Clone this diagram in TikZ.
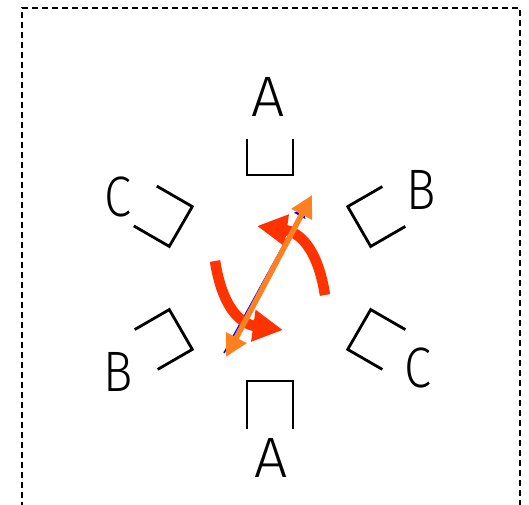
\documentclass[tikz,border=0pt]{standalone}
\usepackage{fontspec}
\setmainfont{Fira Sans}[UprightFont={* Light}]
\usetikzlibrary{arrows.meta}
\definecolor{arrowred}{RGB}{255,51,0}
\definecolor{arroworange}{RGB}{255,128,32}

\begin{document}
\begin{tikzpicture}[x=1pt,y=1pt,
    cup/.style={line width=2.8pt,line join=miter},
    lbl/.style={font=\fontsize{57}{57}\selectfont,xscale=0.86,transform shape,inner sep=0pt},
    turn/.style={line width=10.5pt,draw=arrowred,-{Triangle[length=30pt,width=30pt]}},
    swap/.style={line width=5.5pt,draw=arroworange,{Triangle[length=22pt,width=22pt]}-{Triangle[length=22pt,width=22pt]}}]
            %%% FRAME %%%
            \useasboundingbox (-270,-226) rectangle (259,278);
            \draw[dash pattern=on 6pt off 4pt,line width=1.2pt] (-248,-240) rectangle (250,270);

            %%% CUPS %%%
            \foreach \ang/\len in {0/36,60/41,120/40,180/48,240/40,300/40}
                \draw[cup,rotate=\ang] (-23,103+\len) -- (-23,103) -- (23,103) -- (23,103+\len);

            %%% LABELS %%%
            \node[lbl,xscale=1.2] (a1) at (-2,181) {A};
            \node[lbl,xscale=1.2] (a2) at (1,-180) {A};
            \node[lbl] (c1) at (-152,81) {C};
            \node[lbl] (b1) at (151,88) {B};
            \node[lbl] (b2) at (-152,-94) {B};
            \node[lbl] (c2) at (148,-90) {C};

            %%% COORDINATES %%%
            \draw (55,-17) coordinate (t1);
            \draw (-13,52) coordinate (h1);
            \draw (-55,17) coordinate (t2);
            \draw (13,-52) coordinate (h2);
            \draw (-44,-79) coordinate (s1);
            \draw (42,83) coordinate (s2);
            \draw (-46,-75) coordinate (u1);
            \draw (34,70) coordinate (u2);

            %%% ARROWS %%%
            \draw[line width=1.5pt,blue,-{Latex[length=9pt,width=14pt]}] (u1)--(u2);
            \draw[turn] (t1) .. controls (46,40) and (22,47) .. (h1);
            \draw[turn] (t2) .. controls (-46,-40) and (-22,-47) .. (h2);
            \draw[swap] (s1)--(s2);
        \end{tikzpicture}
\end{document}
